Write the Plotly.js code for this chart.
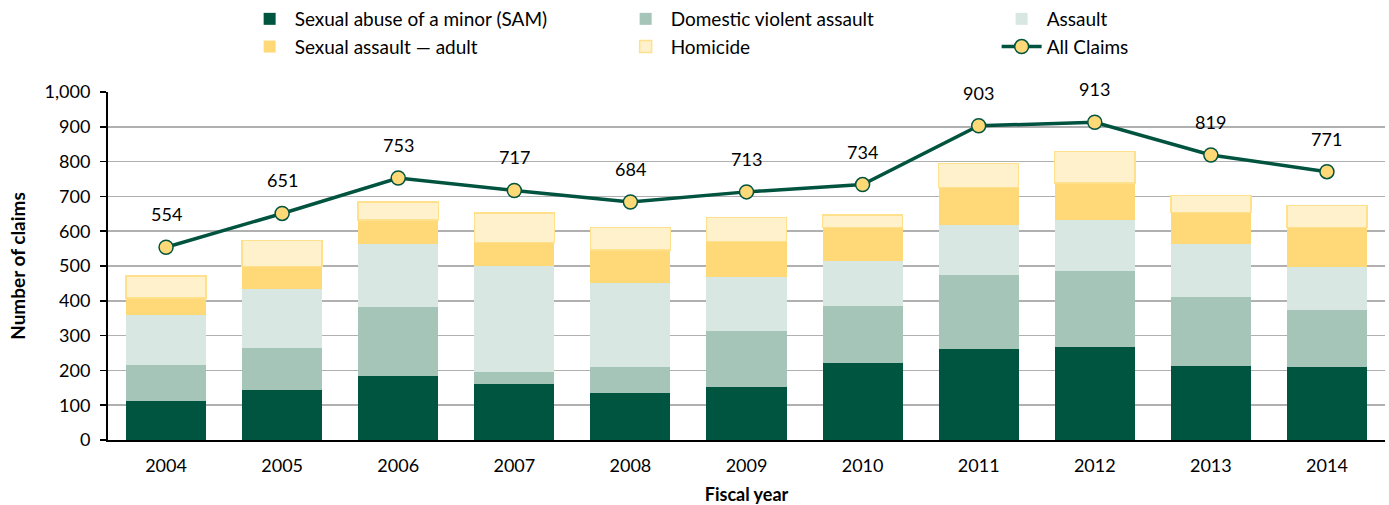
<!DOCTYPE html>
<html>
<head>
<meta charset="utf-8">
<script src="https://cdn.plot.ly/plotly-3.0.1.min.js"></script>
<style>html,body{margin:0;padding:0;background:#fff;}#chart{width:1389px;height:505px;}</style>
</head>
<body>
<div id="chart"></div>
<script>
const years = ["2004","2005","2006","2007","2008","2009","2010","2011","2012","2013","2014"];
const sam = [113,144,185,162,135,152,222,261,267,212,210];
const domesticViolent = [103,120,197,33,74,160,162,214,219,200,163];
const assault = [142,171,182,306,241,155,129,142,147,152,125];
const sexualAssaultAdult = [50,63,68,67,96,104,97,108,106,90,113];
const homicide = [63,76,52,85,65,68,37,69,90,49,63];
const allClaims = [554,651,753,717,684,713,734,903,913,819,771];

const FONT = "Lato, 'Open Sans', sans-serif";
const dark = "#00543F";

function barTrace(name, vals, color, line) {
  return {
    type: "bar", name: name, x: years, y: vals,
    marker: {color: color, line: line || {width: 0}},
    hoverinfo: "y+name"
  };
}

const traces = [
  barTrace("Sexual abuse of a minor (SAM)", sam, "#005541"),
  barTrace("Domestic violent assault", domesticViolent, "#A6C5B9"),
  barTrace("Assault", assault, "#D8E7E1"),
  barTrace("Sexual assault \u2014 adult", sexualAssaultAdult, "#FFD978"),
  barTrace("Homicide", homicide, "#FFF1CC", {color: "#FFE08C", width: 1.5}),
  {
    type: "scatter", mode: "lines+markers", name: "All Claims",
    x: years, y: allClaims,
    line: {color: dark, width: 3.5},
    marker: {size: 14, color: "#FFD978", line: {color: dark, width: 1.5}}
  }
];

const annotations = years.map((yr, i) => ({
  xref: "x", yref: "y",
  x: i, y: allClaims[i], text: String(allClaims[i]),
  showarrow: false, yshift: 33,
  font: {family: FONT, size: 18, color: "#000"}
}));

const layout = {
  width: 1389, height: 505,
  margin: {l: 108, r: 4, t: 92, b: 65, autoexpand: false},
  paper_bgcolor: "#fff", plot_bgcolor: "#fff",
  barmode: "stack", bargap: 0.31,
  font: {family: FONT, size: 18, color: "#000"},
  showlegend: true,
  legend: {
    orientation: "h", x: 0.107, xanchor: "left",
    yref: "container", y: 1.0, yanchor: "top",
    entrywidth: 321, entrywidthmode: "pixels",
    font: {family: FONT, size: 19, color: "#000"},
    traceorder: "normal", tracegroupgap: 0, itemwidth: 40
  },
  xaxis: {
    type: "category", range: [-0.5, years.length - 0.5],
    showline: true, linecolor: "#000", linewidth: 2,
    ticks: "outside", ticklen: 8, tickcolor: "rgba(0,0,0,0)",
    tickfont: {family: FONT, size: 18},
    title: {text: "<b>Fiscal year</b>", font: {family: FONT, size: 18}, standoff: 18},
    fixedrange: true, automargin: false
  },
  yaxis: {
    range: [0, 1000], dtick: 100, tickformat: ",",
    showline: true, linecolor: "#000", linewidth: 2,
    ticks: "outside", ticklen: 6, tickcolor: "#000", tickwidth: 1.5,
    ticklabelstandoff: 6,
    showgrid: true, gridcolor: "#B0B0B0", gridwidth: 1.5,
    tickfont: {family: FONT, size: 18},
    title: {text: "<b>Number of claims</b>", font: {family: FONT, size: 19}, standoff: 14},
    zeroline: false, fixedrange: true, automargin: false
  },
  annotations: annotations
};

Plotly.newPlot("chart", traces, layout, {displayModeBar: false, staticPlot: true});
</script>
</body>
</html>
